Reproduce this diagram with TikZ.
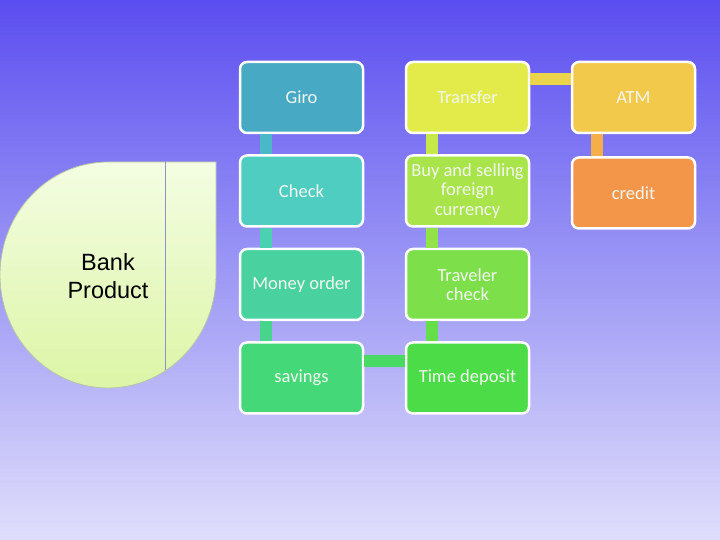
\documentclass[tikz,border=0pt]{standalone}
\usepackage{fontspec}
\setmainfont{Carlito}
\newfontfamily\arialf{Liberation Sans}
\definecolor{bgtop}{HTML}{5B4EF0}
\definecolor{bgmid}{HTML}{9C98F5}
\definecolor{bgbot}{HTML}{E0DEFB}
\definecolor{cGiro}{HTML}{47A9C4}
\definecolor{cCheck}{HTML}{4ECDC0}
\definecolor{cMoney}{HTML}{49D2A0}
\definecolor{cSav}{HTML}{45D878}
\definecolor{cTime}{HTML}{4BDC48}
\definecolor{cTrav}{HTML}{7DE04A}
\definecolor{cBuy}{HTML}{A8E44A}
\definecolor{cTrans}{HTML}{E3EB4A}
\definecolor{cATM}{HTML}{F2C94A}
\definecolor{cCred}{HTML}{F4964A}
\definecolor{kGC}{HTML}{4AB8C6}
\definecolor{kCM}{HTML}{4CD0B2}
\definecolor{kMS}{HTML}{47D58E}
\definecolor{kST}{HTML}{48DA62}
\definecolor{kTT}{HTML}{64DE49}
\definecolor{kTB}{HTML}{92E24A}
\definecolor{kBT}{HTML}{C8E84A}
\definecolor{kTA}{HTML}{ECD44A}
\definecolor{kAC}{HTML}{F4AE4A}
\definecolor{leafTop}{HTML}{F4FDE2}
\definecolor{leafBot}{HTML}{DCF5A6}
\definecolor{leafEdge}{HTML}{B8C4A8}
\definecolor{leafLine}{HTML}{8E92C6}
\definecolor{txt}{HTML}{F2F6F0}
\tikzset{
  item/.style={draw=white, line width=2.5pt, rounded corners=7pt, minimum width=123pt, minimum height=71pt,
    text=txt, align=center, font=\fontsize{18.5}{19.5}\selectfont, inner sep=2pt},
  bar/.style={line width=12pt}
}
\begin{document}
\begin{tikzpicture}[x=1pt,y=1pt]
\useasboundingbox (0,0) rectangle (720,540);
\shade[top color=bgtop, bottom color=bgbot, middle color=bgmid] (0,0) rectangle (720,540);
% leaf shape
\shade[top color=leafTop, bottom color=leafBot] (216,378) -- (216,265) arc[start angle=0, end angle=-270, x radius=108, y radius=113] -- cycle;
\draw[draw=leafEdge, line width=0.8pt] (216,378) -- (216,265) arc[start angle=0, end angle=-270, x radius=108, y radius=113] -- cycle;
\coordinate (lt) at (165.7,378);
\coordinate (lb) at (165.7,169.5);
\draw[color=leafLine, line width=0.8pt] (lt) -- (lb);
\node[font=\arialf\fontsize{23.5}{28.5}\selectfont, align=center, text=black] (bank) at (108,264) {Bank\\Product};
% boxes
\node[item, fill=cGiro]  (giro)  at (301.5,442.5) {Giro};
\node[item, fill=cCheck] (check) at (301.5,349) {Check};
\node[item, fill=cMoney] (money) at (301.5,255.5) {Money order};
\node[item, fill=cSav]   (sav)   at (301.5,162) {savings};
\node[item, fill=cTrans] (trans) at (467.5,442.5) {Transfer};
\node[item, fill=cBuy]   (buy)   at (467.5,349) {Buy and selling\\foreign\\currency};
\node[item, fill=cTrav]  (trav)  at (467.5,255.5) {Traveler\\check};
\node[item, fill=cTime]  (time)  at (467.5,162) {Time deposit};
\node[item, fill=cATM]   (atm)   at (633.5,442.5) {ATM};
\node[item, fill=cCred]  (cred)  at (633.5,347) {credit};
% connectors
\coordinate (xL) at (266,0);
\coordinate (xM) at (432,0);
\coordinate (xR) at (597,0);
\coordinate (yT) at (0,461);
\coordinate (yB) at (0,179);
\draw[bar, kGC] (giro.south -| xL) -- (check.north -| xL);
\draw[bar, kCM] (check.south -| xL) -- (money.north -| xL);
\draw[bar, kMS] (money.south -| xL) -- (sav.north -| xL);
\draw[bar, kST] (sav.east |- yB) -- (time.west |- yB);
\draw[bar, kTT] (time.north -| xM) -- (trav.south -| xM);
\draw[bar, kTB] (trav.north -| xM) -- (buy.south -| xM);
\draw[bar, kBT] (buy.north -| xM) -- (trans.south -| xM);
\draw[bar, kTA] (trans.east |- yT) -- (atm.west |- yT);
\draw[bar, kAC] (atm.south -| xR) -- (cred.north -| xR);
\end{tikzpicture}
\end{document}
